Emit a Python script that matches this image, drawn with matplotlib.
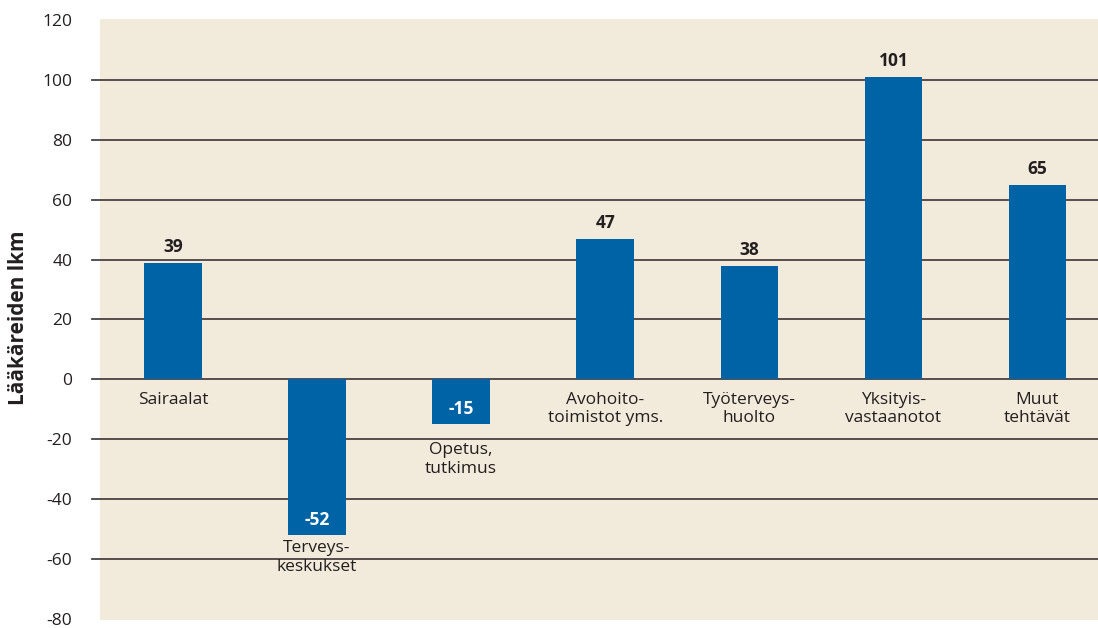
import matplotlib
matplotlib.use("Agg")
import matplotlib.pyplot as plt
import matplotlib.transforms as mtransforms

# data
categories = ["Sairaalat", "Terveys-\nkeskukset", "Opetus,\ntutkimus", "Avohoito-\ntoimistot yms.",
              "Työterveys-\nhuolto", "Yksityis-\nvastaanotot", "Muut\ntehtävät"]
values = [39, -52, -15, 47, 38, 101, 65]
yticks = [120, 100, 80, 60, 40, 20, 0, -20, -40, -60, -80]
gridlines = [100, 80, 60, 40, 20, 0, -20, -40, -60]

# label offset below bar (points), tweaked per category
label_gap = [-9, -4, -13, -9, -9, -9, -9]

plt.rcParams['font.family'] = ['Open Sans', 'DejaVu Sans']
textcol = "#231f20"
bluecol = "#0063a6"

fig = plt.figure(figsize=(10.98, 6.28), dpi=100)
ax = fig.add_axes([100 / 1098, 1 - 620 / 628, 1 - 100 / 1098, (620 - 19) / 628])
ax.set_facecolor("#f2eadb")

x = list(range(len(categories)))
ax.bar(x, values, width=0.4, color=bluecol, zorder=3)

# gridlines incl. small tick stub to the left
trans = mtransforms.blended_transform_factory(ax.transAxes, ax.transData)
for g in gridlines:
    ax.plot([-0.008, 1], [g, g], transform=trans, color="#4a4242", lw=1.3,
            clip_on=False, zorder=2)

ax.set_xlim(-0.507, 6.42)
ax.set_ylim(-80.5, 120.4)
ax.set_yticks(yticks)
ax.set_yticklabels([str(t) for t in yticks], fontsize=12.5, color=textcol)
ax.tick_params(axis='y', length=0, pad=20)
ax.set_xticks([])
for s in ax.spines.values():
    s.set_visible(False)

fig.text(19 / 1098, 1 - 318 / 628, "Lääkäreiden lkm", rotation=90, ha='center', va='center',
         fontsize=15, fontweight='bold', color=textcol)

for xi, v, c, gap in zip(x, values, categories, label_gap):
    if v >= 0:
        ax.annotate(str(v), (xi, v), xytext=(0, 5), textcoords='offset points',
                    ha='center', va='bottom', fontsize=12.5, fontweight='bold', color=textcol)
        ax.annotate(c, (xi, 0), xytext=(0, gap), textcoords='offset points',
                    ha='center', va='top', fontsize=12.5, color=textcol, linespacing=1.2)
    else:
        ax.annotate(str(v), (xi, v), xytext=(0, 4), textcoords='offset points',
                    ha='center', va='bottom', fontsize=12.5, fontweight='bold', color='white', zorder=4)
        ax.annotate(c, (xi, v), xytext=(0, gap), textcoords='offset points',
                    ha='center', va='top', fontsize=12.5, color=textcol, linespacing=1.2)

fig.savefig("out.png", dpi=100)
plt.close(fig)
